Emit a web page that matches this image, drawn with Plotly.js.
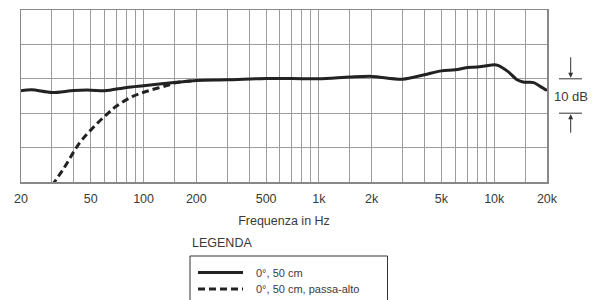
<!DOCTYPE html>
<html>
<head>
<meta charset="utf-8">
<script src="https://cdn.plot.ly/plotly-3.0.1.min.js"></script>
<style>html,body{margin:0;padding:0;background:#fff;}#chart{width:598px;height:300px;}</style>
</head>
<body>
<div id="chart"></div>
<script>
// Frequency response, solid: 0°, 50 cm
var freqSolid = [20, 23, 30, 40, 50, 60, 80, 100, 150, 200, 300, 500, 700, 1000, 1500, 2000, 3000, 4000, 5000, 6000, 7000, 8000, 9000, 10000, 10500, 12000, 13500, 14800, 16800, 18300, 20000];
var dbSolid   = [-3.5, -3.2, -4.0, -3.4, -3.3, -3.5, -2.5, -2.0, -1.1, -0.5, -0.3, 0.1, 0.1, 0.0, 0.5, 0.7, -0.1, 1.2, 2.3, 2.6, 3.3, 3.4, 3.8, 4.1, 3.9, 2.1, -0.3, -1.0, -1.1, -2.2, -3.4];
// Dashed: 0°, 50 cm, high-pass
var freqHP = [30, 34.6, 43.1, 51.3, 61.2, 69.8, 86.8, 108, 135, 150, 200];
var dbHP   = [-31, -26.5, -18.7, -14.3, -10.5, -8.0, -5.1, -3.4, -2.0, -1.2, -0.5];

var gridFreqs = [20,30,40,50,60,70,80,90,100,150,200,300,400,500,600,700,800,900,1000,1500,2000,3000,4000,5000,6000,7000,8000,9000,10000,15000,20000];
var tickLabelMap = {20:'20',50:'50',100:'100',200:'200',500:'500',1000:'1k',2000:'2k',5000:'5k',10000:'10k',20000:'20k'};
var tickText = gridFreqs.map(function(f){ return tickLabelMap[f] || ''; });

var seriesNames = ['0°, 50 cm', '0°, 50 cm, passa-alto'];

var L = 21, R = 51, T = 10, B = 118, W = 598, H = 300;
var pw = W - L - R, ph = H - T - B;
function px(x){ return (x - L) / pw; }
function py(y){ return (H - B - y) / ph; }

var font = "Liberation Sans, Arial, Helvetica, sans-serif";
var txt = '#3a3a3a';

var traces = [
  {x: freqHP, y: dbHP, mode: 'lines', line: {color: '#222', width: 3, dash: '7px,4px', shape: 'spline'}, name: seriesNames[1], showlegend: false, hoverinfo: 'skip'},
  {x: freqSolid, y: dbSolid, mode: 'lines', line: {color: '#222', width: 3, shape: 'spline', smoothing: 0.8}, name: seriesNames[0], showlegend: false, hoverinfo: 'skip'}
];

var shapes = [
  // 10 dB bracket lines
  {type:'line', xref:'paper', yref:'paper', x0:px(559), x1:px(582), y0:0.6, y1:0.6, line:{color:'#333', width:1}},
  {type:'line', xref:'paper', yref:'paper', x0:px(559), x1:px(582), y0:0.4, y1:0.4, line:{color:'#333', width:1}},
  // legend box
  {type:'rect', xref:'paper', yref:'paper', x0:px(190), x1:px(387.5), y0:py(256), y1:py(306), line:{color:'#333', width:1}},
  // legend samples
  {type:'line', xref:'paper', yref:'paper', x0:px(198), x1:px(243), y0:py(272.5), y1:py(272.5), line:{color:'#222', width:3}},
  {type:'line', xref:'paper', yref:'paper', x0:px(198), x1:px(243), y0:py(289), y1:py(289), line:{color:'#222', width:3, dash:'7px,4px'}}
];

var annotations = [
  {xref:'paper', yref:'paper', x:px(570.7), y:0.6, ax:0, ay:-23, text:'', showarrow:true, arrowhead:2, arrowsize:1, arrowwidth:1, arrowcolor:'#333', standoff:1},
  {xref:'paper', yref:'paper', x:px(570.7), y:0.4, ax:0, ay:21, text:'', showarrow:true, arrowhead:2, arrowsize:1, arrowwidth:1, arrowcolor:'#333', standoff:1},
  {xref:'paper', yref:'paper', x:px(570.5), y:0.5, text:'10 dB', showarrow:false, xanchor:'center', yanchor:'middle', font:{family:font, size:13, color:txt}},
  {xref:'paper', yref:'paper', x:px(190), y:py(243), text:'LEGENDA', showarrow:false, xanchor:'left', yanchor:'middle', font:{family:font, size:12.5, color:txt}},
  {xref:'paper', yref:'paper', x:px(254), y:py(273), text:seriesNames[0], showarrow:false, xanchor:'left', yanchor:'middle', font:{family:font, size:11, color:txt}},
  {xref:'paper', yref:'paper', x:px(254), y:py(289), text:seriesNames[1], showarrow:false, xanchor:'left', yanchor:'middle', font:{family:font, size:11, color:txt}}
];

var layout = {
  width: W, height: H,
  margin: {l: L, r: R, t: T, b: B, pad: 0},
  paper_bgcolor: '#fff', plot_bgcolor: '#fff',
  showlegend: false,
  font: {family: font, color: txt, size: 12.5},
  xaxis: {
    type: 'log', range: [Math.log10(20), Math.log10(20000)],
    tickmode: 'array', tickvals: gridFreqs, ticktext: tickText,
    ticks: '', ticklabelstandoff: 4, showgrid: true, gridcolor: '#9c9c9c', gridwidth: 1,
    showline: true, mirror: true, linecolor: '#888', linewidth: 1.5,
    tickfont: {family: font, size: 12.5, color: txt},
    title: {text: 'Frequenza in Hz', font: {family: font, size: 12.5, color: txt}, standoff: 11},
    automargin: false, zeroline: false, fixedrange: true
  },
  yaxis: {
    range: [-30, 20], dtick: 10, tick0: 0,
    showticklabels: false, ticks: '', showgrid: true, gridcolor: '#9c9c9c', gridwidth: 1,
    showline: true, mirror: true, linecolor: '#888', linewidth: 1.5,
    zeroline: false, automargin: false, fixedrange: true
  },
  shapes: shapes,
  annotations: annotations
};

Plotly.newPlot('chart', traces, layout, {staticPlot: true, displayModeBar: false});
</script>
</body>
</html>
